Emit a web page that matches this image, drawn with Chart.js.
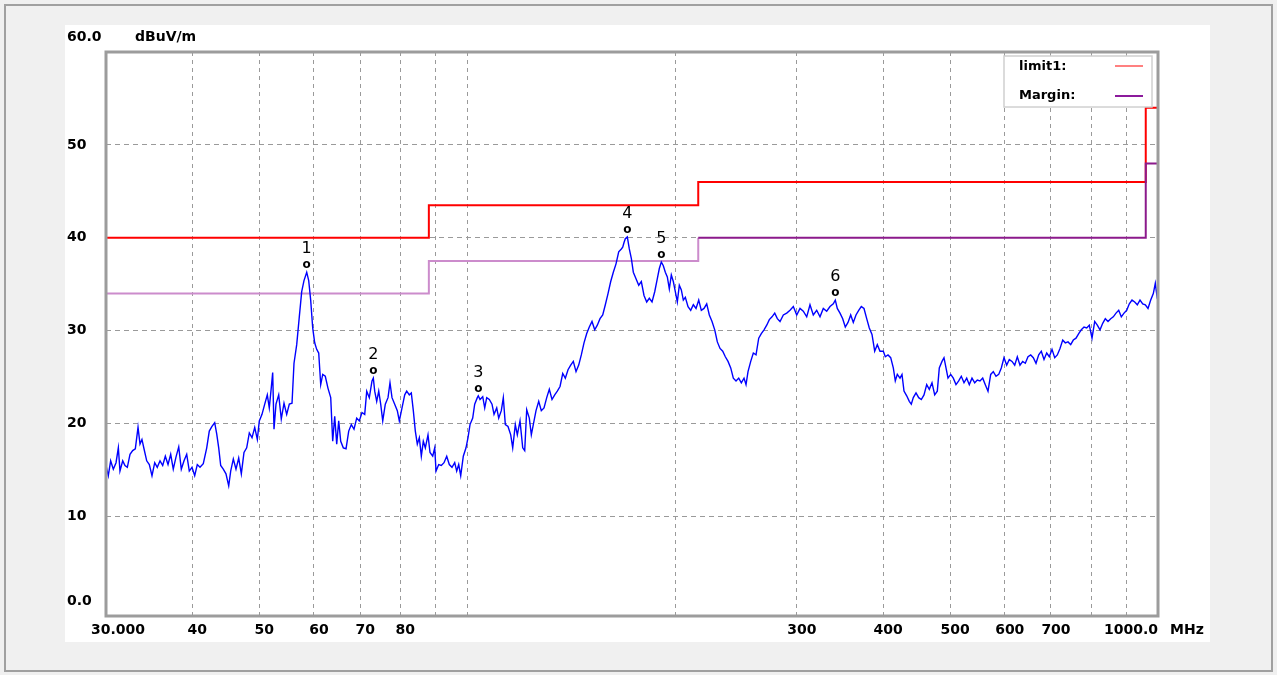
<!DOCTYPE html>
<html lang="en">

<head>
    <meta charset="UTF-8">
    <title>Radiated Emission Scan</title>
    <script src="https://cdn.jsdelivr.net/npm/chart.js@4"></script>
    <style>
        body { margin: 0; background: #f0f0f0; }
    </style>
</head>

<body>

    <canvas id="scan" width="1277" height="675"></canvas>

    <script>
        const traceFreq = [
            30.00, 30.23, 30.47, 30.74, 31.02, 31.26, 31.43, 31.72, 31.96, 32.21,
            32.50, 32.79, 33.08, 33.38, 33.60, 33.82, 34.05, 34.36, 34.66, 34.97,
            35.29, 35.59, 35.92, 36.24, 36.56, 36.89, 37.22, 37.54, 37.88, 38.23,
            38.56, 38.91, 39.26, 39.60, 39.96, 40.32, 40.67, 41.04, 41.49, 41.97,
            42.33, 42.71, 43.10, 43.39, 43.68, 43.97, 44.35, 44.75, 45.16, 45.46,
            45.86, 46.27, 46.69, 47.10, 47.52, 47.95, 48.37, 48.81, 49.25, 49.68,
            50.01, 50.46, 50.92, 51.36, 51.70, 52.05, 52.29, 52.52, 52.87, 53.35,
            53.81, 54.30, 54.79, 55.27, 55.77, 56.14, 56.65, 57.14, 57.60, 58.04,
            58.57, 58.96, 59.35, 59.75, 60.15, 60.55, 60.96, 61.37, 61.78, 62.31,
            62.88, 63.45, 63.87, 64.30, 64.73, 65.16, 65.60, 66.17, 66.77, 67.37,
            67.96, 68.57, 69.19, 69.79, 70.42, 71.06,
            71.54, 72.16, 72.81, 73.13, 73.47, 73.96, 74.46, 74.95, 75.46, 76.11,
            76.80, 77.31, 77.83, 78.53, 79.22, 79.75, 80.47, 81.20, 81.74, 82.45,
            83.00, 83.56, 84.12, 84.68, 85.25, 85.82, 86.39, 86.97, 87.75, 88.34,
            89.14, 89.74, 90.13, 90.94, 91.73, 92.56, 93.40, 94.21, 95.06, 95.92,
            96.56, 97.21, 97.86, 98.71, 99.60, 100.27, 100.94, 101.85, 102.53, 103.43,
            103.77, 104.36, 105.31, 106.01, 106.72, 107.65, 108.62, 109.35, 110.34, 111.07,
            112.04, 112.79, 113.55, 114.57, 115.61, 116.38, 117.39, 118.18, 119.25, 120.33,
            121.13, 121.94, 123.00, 123.83, 124.65, 125.78, 126.92, 128.02, 129.18, 130.35,
            131.48, 132.67, 133.87, 135.04, 136.26, 137.49, 138.69, 139.94, 141.20, 142.43,
            143.72, 145.02, 146.28, 147.60, 148.94, 150.23, 151.59, 152.96, 154.30, 155.69,
            157.10, 158.47, 159.90, 161.34, 162.75, 164.22, 165.70, 167.15, 167.93, 168.66,
            169.39, 170.52, 171.66, 172.81, 173.97, 175.54, 177.13, 178.67, 180.28, 181.91,
            183.50, 185.16, 186.83, 188.46, 189.72, 190.99, 192.27, 193.55, 194.85, 196.15,
            197.46, 198.78, 200.11, 201.45, 202.80, 204.16, 205.52, 206.90, 208.77, 210.65,
            212.49, 214.41, 216.35, 218.23, 220.20, 222.19, 224.13, 226.16, 228.20, 230.19,
            232.27, 234.37, 236.41, 238.55, 240.70, 242.80, 244.99, 247.20, 249.35, 251.61,
            253.29, 254.98, 257.29, 259.53, 261.88, 264.24, 266.54, 268.95, 271.39, 273.75,
            276.22, 278.72, 281.15, 283.69, 286.83, 290.09, 293.31, 296.55, 299.93, 303.25,
            306.57, 310.07, 313.49, 316.96, 320.57, 324.12, 327.71, 331.44, 335.11, 338.81,
            341.08, 343.36, 346.47, 349.60, 352.64, 355.83, 359.05, 362.17, 365.44, 368.75,
            371.96, 375.32, 378.71, 382.01, 385.46, 388.95, 392.33, 395.88, 400.26, 402.94,
            406.58, 410.25, 413.83, 416.59, 419.38, 423.17, 426.00, 428.85, 432.73, 436.50,
            439.42, 442.36, 446.36, 450.39, 454.31, 458.42, 462.56, 466.59, 470.81, 475.07,
            479.20, 482.40, 486.77, 490.02, 493.30, 496.60, 501.09, 505.45, 510.02, 514.63,
            519.11, 523.80, 528.54, 533.14, 537.96, 542.82, 547.55, 552.50, 557.50, 562.35,
            567.43, 572.56, 577.55, 582.77, 588.04, 593.15, 598.52, 603.93, 609.18, 614.69,
            620.25, 625.65, 631.30, 637.01, 642.56, 648.36, 654.23, 659.92, 665.89, 671.91,
            677.76, 683.89, 690.07, 696.08, 702.37, 708.72, 714.89, 721.35, 727.87, 734.21,
            740.85, 747.55, 754.05, 760.87, 767.75, 774.43, 781.43, 788.50, 795.36, 802.55,
            809.81, 816.85, 824.23, 831.68, 838.92, 846.50, 854.15, 861.59, 869.38, 877.24,
            884.88, 892.88, 900.95, 908.79, 917.01, 925.30, 933.35, 941.79, 950.31, 958.58,
            967.25, 975.99, 984.48, 991.07, 997.70, 1000.0
        ];
        const traceLevel = [
            15.5, 14.4, 16.0, 15.1, 15.8, 17.4, 14.9, 16.0, 15.5, 15.3,
            16.7, 17.1, 17.3, 19.6, 17.8, 18.3, 17.3, 16.0, 15.6, 14.4,
            15.8, 15.3, 16.0, 15.5, 16.5, 15.6, 16.7, 15.1, 16.4, 17.5,
            15.1, 16.0, 16.7, 14.9, 15.3, 14.4, 15.6, 15.3, 15.7, 17.4,
            19.2, 19.7, 20.1, 18.9, 17.4, 15.5, 15.1, 14.6, 13.3, 14.9,
            16.2, 15.1, 16.3, 14.6, 16.9, 17.4, 19.0, 18.5, 19.6, 18.3,
            20.3, 21.0, 22.1, 23.1, 21.7, 23.9, 25.5, 19.4, 22.1, 23.1,
            20.5, 22.2, 21.0, 22.1, 22.2, 26.5, 28.5, 31.5, 34.2, 35.4,
            36.3, 35.4, 33.3, 30.3, 28.7, 28.0, 27.6, 24.2, 25.3, 25.1,
            23.8, 22.8, 18.1, 20.8, 17.8, 20.3, 18.1, 17.4, 17.3, 19.2,
            19.9, 19.4, 20.6, 20.3, 21.2, 21.0,
            23.5, 22.8, 24.6, 24.9, 23.5, 22.4, 23.5, 22.1, 20.3, 22.1,
            22.8, 24.4, 22.8, 22.1, 21.4, 20.3, 21.7, 23.1, 23.5, 23.1,
            23.3, 21.4, 19.2, 17.8, 18.5, 16.5, 18.1, 17.4, 18.8, 16.9,
            16.5, 17.4, 14.9, 15.6, 15.5, 15.8, 16.5, 15.6, 15.3, 15.8,
            14.9, 15.6, 14.4, 16.5, 17.4, 18.5, 19.9, 20.6, 22.1, 22.8,
            23.0, 22.6, 22.9, 21.7, 22.8, 22.6, 22.1, 21.0, 21.7, 20.6,
            21.4, 22.8, 19.9, 19.7, 18.8, 17.4, 19.9, 18.8, 20.3, 17.4,
            17.1, 21.5, 20.6, 18.8, 19.9, 21.4, 22.4, 21.4, 21.7, 22.8,
            23.7, 22.6, 23.1, 23.5, 24.0, 25.4, 24.9, 25.8, 26.3, 26.7,
            25.6, 26.3, 27.4, 28.7, 29.7, 30.4, 31.0, 30.1, 30.6, 31.3,
            31.7, 32.8, 34.0, 35.3, 36.3, 37.2, 38.5, 38.8, 39.0, 39.5,
            39.9, 40.1, 38.8, 37.8, 36.3, 35.6, 34.9, 35.3, 33.8, 33.1,
            33.5, 33.1, 34.2, 35.6, 36.7, 37.4, 37.0, 36.3, 35.8, 34.5,
            36.0, 35.3, 34.2, 33.1, 34.9, 34.4, 33.3, 33.6, 32.6, 32.2,
            32.8, 32.4, 33.3, 32.2, 32.4, 32.9, 31.7, 31.0, 30.1, 28.8,
            28.1, 27.8, 27.2, 26.7, 26.0, 24.9, 24.6, 24.9, 24.4, 24.9,
            24.2, 25.6, 26.7, 27.6, 27.4, 29.2, 29.7, 30.1, 30.6, 31.2,
            31.5, 31.9, 31.3, 31.0, 31.7, 31.9, 32.2, 32.6, 31.7, 32.4,
            32.1, 31.5, 32.8, 31.7, 32.2, 31.5, 32.4, 32.1, 32.6, 32.9,
            33.3, 32.4, 31.9, 31.3, 30.4, 30.9, 31.7, 30.9, 31.7, 32.2,
            32.6, 32.4, 31.3, 30.3, 29.6, 27.8, 28.5, 27.8, 27.8, 27.2,
            27.4, 27.1, 26.0, 24.6, 25.3, 24.9, 25.3, 23.5, 23.0, 22.4,
            22.1, 22.8, 23.3, 22.8, 22.6, 23.1, 24.2, 23.7, 24.4, 23.1,
            23.5, 26.0, 26.7, 27.1, 26.0, 24.9, 25.3, 24.9, 24.2, 24.6,
            25.1, 24.4, 24.9, 24.2, 24.9, 24.4, 24.7, 24.6, 24.9, 24.2,
            23.5, 25.3, 25.6, 25.1, 25.3, 26.0, 27.1, 26.3, 26.9, 26.7,
            26.3, 27.2, 26.3, 26.7, 26.5, 27.2, 27.4, 27.1, 26.5, 27.4,
            27.8, 26.9, 27.6, 27.2, 28.0, 27.1, 27.4, 28.1, 29.0, 28.7,
            28.8, 28.5, 29.0, 29.2, 29.7, 30.1, 30.4, 30.3, 30.6, 29.2,
            31.0, 30.6, 30.1, 30.8, 31.3, 31.0, 31.3, 31.5, 31.9, 32.2,
            31.5, 31.9, 32.2, 32.9, 33.3, 33.1, 32.8, 33.3, 32.9, 32.8,
            32.4, 33.3, 34.0, 35.1, 33.5, 33.3
        ];

        // limit line and 6 dB margin (stepped)
        const limitFreq = [30, 88, 88, 216, 216, 960, 960, 1000];
        const limitLevel = [40, 40, 43.5, 43.5, 46, 46, 54, 54];
        const marginLevel = [34, 34, 37.5, 37.5, 40, 40, 48, 48];

        // peak markers
        const markerFreq = [58.57, 73.13, 103.77, 170.52, 190.99, 341.08];
        const markerLevel = [36.3, 24.9, 23.0, 40.1, 37.4, 33.3];

        // axis ticks and labels
        const gridFreq = [30, 40, 50, 60, 70, 80, 90, 100, 200, 300, 400, 500, 600, 700, 800, 900, 1000];
        const xLabelFreq = [30, 40, 50, 60, 70, 80, 300, 400, 500, 600, 700, 1000];
        const xLabelText = ['30.000', '40', '50', '60', '70', '80', '300', '400', '500', '600', '700', '1000.0'];
        const yTicks = [10, 20, 30, 40, 50];

        const FONT = '"DejaVu Sans", "Liberation Sans", Arial, sans-serif';

        function pts(xs, ys) {
            return xs.map((x, i) => ({ x: x, y: ys[i] }));
        }

        // page background, panel and frame
        const panelPlugin = {
            id: 'panel',
            beforeDraw(chart) {
                const ctx = chart.ctx;
                ctx.save();
                ctx.fillStyle = '#f0f0f0';
                ctx.fillRect(0, 0, chart.width, chart.height);
                ctx.strokeStyle = '#a0a0a0';
                ctx.lineWidth = 2;
                ctx.strokeRect(5, 5, 1267, 666);
                ctx.fillStyle = '#ffffff';
                ctx.fillRect(65, 25, 1145, 617);
                ctx.restore();
            },
            afterDraw(chart) {
                const ctx = chart.ctx;
                const a = chart.chartArea;
                const xs = chart.scales.x;
                const ys = chart.scales.y;
                ctx.save();

                // plot frame
                ctx.strokeStyle = '#9c9c9c';
                ctx.lineWidth = 3;
                ctx.strokeRect(a.left, a.top, a.right - a.left, a.bottom - a.top);

                // axis text
                ctx.fillStyle = '#000';
                ctx.font = 'bold 14px ' + FONT;
                ctx.textBaseline = 'middle';
                ctx.textAlign = 'left';
                yTicks.forEach(v => ctx.fillText(String(v), 67, ys.getPixelForValue(v)));
                ctx.fillText('60.0', 67, 37);
                ctx.fillText('0.0', 67, 601);
                ctx.fillText('dBuV/m', 135, 37);

                xLabelFreq.forEach((f, i) => {
                    const px = xs.getPixelForValue(f);
                    if (i === 0) {
                        ctx.textAlign = 'left';
                        ctx.fillText(xLabelText[i], px - 15, 630);
                    } else if (i === xLabelFreq.length - 1) {
                        ctx.textAlign = 'right';
                        ctx.fillText(xLabelText[i], px, 630);
                    } else {
                        ctx.textAlign = 'center';
                        ctx.fillText(xLabelText[i], px + 5, 630);
                    }
                });
                ctx.textAlign = 'left';
                ctx.fillText('MHz', 1170, 630);

                // markers
                ctx.textAlign = 'center';
                markerFreq.forEach((f, i) => {
                    const px = xs.getPixelForValue(f);
                    const py = ys.getPixelForValue(markerLevel[i]);
                    ctx.font = 'bold 12px ' + FONT;
                    ctx.fillText('o', px, py - 7);
                    ctx.font = '16px ' + FONT;
                    ctx.fillText(String(i + 1), px, py - 23);
                });

                // legend box
                ctx.fillStyle = '#ffffff';
                ctx.fillRect(1004, 56, 148, 51);
                ctx.strokeStyle = '#d0d0d0';
                ctx.lineWidth = 1.5;
                ctx.strokeRect(1004, 56, 148, 51);
                ctx.fillStyle = '#000';
                ctx.font = 'bold 13px ' + FONT;
                ctx.textAlign = 'left';
                ctx.fillText('limit1:', 1019, 67);
                ctx.fillText('Margin:', 1019, 96);
                ctx.lineWidth = 2;
                ctx.strokeStyle = '#ff8080';
                ctx.beginPath(); ctx.moveTo(1115, 66); ctx.lineTo(1143, 66); ctx.stroke();
                ctx.strokeStyle = '#8c1a9c';
                ctx.beginPath(); ctx.moveTo(1115, 96); ctx.lineTo(1143, 96); ctx.stroke();

                ctx.restore();
            }
        };

        const ctx = document.getElementById('scan').getContext('2d');
        new Chart(ctx, {
            type: 'scatter',
            data: {
                datasets: [{
                    label: 'Trace',
                    data: pts(traceFreq, traceLevel),
                    showLine: true,
                    borderColor: '#0000ff',
                    borderWidth: 1.4,
                    pointRadius: 0,
                    order: 0
                }, {
                    label: 'limit1',
                    data: pts(limitFreq, limitLevel),
                    showLine: true,
                    borderColor: '#ff0000',
                    borderWidth: 2,
                    pointRadius: 0,
                    order: 2
                }, {
                    label: 'Margin',
                    data: pts(limitFreq, marginLevel),
                    showLine: true,
                    borderWidth: 2,
                    pointRadius: 0,
                    borderColor: '#8c1a8c',
                    segment: {
                        borderColor: c => (c.p1.parsed.x > 216 && c.p0.parsed.x >= 216) ? '#8c1a8c' : '#cc8ccc'
                    },
                    order: 1
                }]
            },
            options: {
                responsive: false,
                animation: false,
                layout: { padding: { left: 106, top: 52, right: 119, bottom: 59 } },
                plugins: {
                    legend: { display: false },
                    tooltip: { enabled: false }
                },
                scales: {
                    x: {
                        type: 'logarithmic',
                        min: 30,
                        max: 1000,
                        afterBuildTicks: s => { s.ticks = gridFreq.map(v => ({ value: v })); },
                        ticks: { display: false },
                        grid: { color: '#9a9a9a', lineWidth: 1, drawTicks: false },
                        border: { display: false, dash: [4, 4] }
                    },
                    y: {
                        type: 'linear',
                        min: -0.7,
                        max: 60,
                        afterBuildTicks: s => { s.ticks = yTicks.map(v => ({ value: v })); },
                        ticks: { display: false },
                        grid: { color: '#9a9a9a', lineWidth: 1, drawTicks: false },
                        border: { display: false, dash: [5, 4] }
                    }
                }
            },
            plugins: [panelPlugin]
        });
    </script>

</body>

</html>
